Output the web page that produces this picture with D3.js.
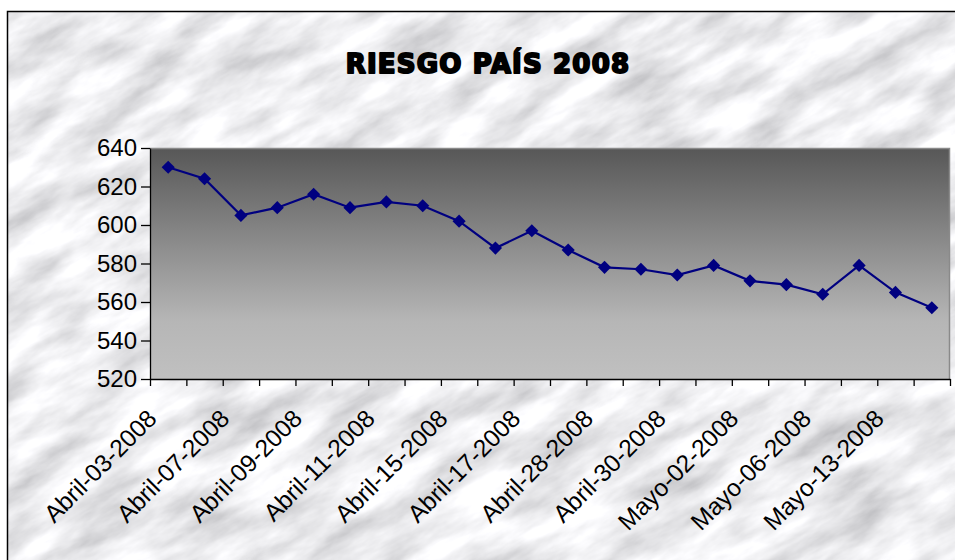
<!DOCTYPE html>
<html>
<head>
<meta charset="utf-8">
<script src="https://cdn.jsdelivr.net/npm/d3@7"></script>
<style>
  html, body { margin: 0; padding: 0; background: #fff; }
  svg { display: block; }
</style>
</head>
<body>
<div id="chart"></div>
<script>
// fechas (one per point; every other one is labelled on the axis)
const fechas = [
  'Abril-03-2008', 'Abril-04-2008', 'Abril-07-2008', 'Abril-08-2008',
  'Abril-09-2008', 'Abril-10-2008', 'Abril-11-2008', 'Abril-14-2008',
  'Abril-15-2008', 'Abril-16-2008', 'Abril-17-2008', 'Abril-18-2008',
  'Abril-28-2008', 'Abril-29-2008', 'Abril-30-2008', 'Mayo-01-2008',
  'Mayo-02-2008', 'Mayo-05-2008', 'Mayo-06-2008', 'Mayo-07-2008',
  'Mayo-13-2008', 'Mayo-14-2008'
];
const riesgo = [
  630, 624, 605, 609, 616, 609, 612, 610, 602, 588, 597,
  587, 578, 577, 574, 579, 571, 569, 564, 579, 565, 557
];
const yTicks = [520, 540, 560, 580, 600, 620, 640];
const titulo = 'RIESGO PAÍS 2008';

const width = 955;
const height = 560;
const plot = { left: 150, right: 950, top: 148, bottom: 379 };

const svg = d3.select('#chart')
  .append('svg')
  .attr('width', width)
  .attr('height', height);

const defs = svg.append('defs');

// marble-ish texture for the chart background
const marble = defs.append('filter')
  .attr('id', 'marble')
  .attr('filterUnits', 'userSpaceOnUse')
  .attr('x', -600).attr('y', -600).attr('width', 2200).attr('height', 2000);
marble.append('feTurbulence')
  .attr('type', 'fractalNoise')
  .attr('baseFrequency', '0.012 0.035')
  .attr('numOctaves', 5)
  .attr('seed', 11);
marble.append('feColorMatrix')
  .attr('type', 'matrix')
  .attr('values',
    '0.8 0 0 0 0.45 ' +
    '0.8 0 0 0 0.45 ' +
    '0.8 0 0 0 0.47 ' +
    '0 0 0 0 1');

const grad = defs.append('linearGradient')
  .attr('id', 'plotGrad')
  .attr('x1', 0).attr('y1', 0).attr('x2', 0).attr('y2', 1);
grad.append('stop').attr('offset', 0).attr('stop-color', '#575757');
grad.append('stop').attr('offset', 0.75).attr('stop-color', '#b6b6b6');
grad.append('stop').attr('offset', 1).attr('stop-color', '#c0c0c0');

defs.append('clipPath').attr('id', 'frame')
  .append('rect').attr('x', 7).attr('y', 11).attr('width', 960).attr('height', 560);

// background
svg.append('g')
  .attr('clip-path', 'url(#frame)')
  .append('rect')
  .attr('x', -400).attr('y', -400)
  .attr('width', 1800).attr('height', 1400)
  .attr('transform', 'rotate(-28 480 280)')
  .attr('filter', 'url(#marble)');

svg.append('rect')
  .attr('x', 7.5).attr('y', 11.5)
  .attr('width', 960).attr('height', 560)
  .attr('fill', 'none')
  .attr('stroke', '#000')
  .attr('stroke-width', 1.5);

// scales
const x = d3.scaleBand()
  .domain(fechas)
  .range([plot.left, plot.right])
  .padding(0);

const y = d3.scaleLinear()
  .domain([520, 640])
  .range([plot.bottom, plot.top]);

// plot area
svg.append('rect')
  .attr('x', plot.left)
  .attr('y', plot.top)
  .attr('width', plot.right - plot.left)
  .attr('height', plot.bottom - plot.top)
  .attr('fill', 'url(#plotGrad)');

svg.append('path')
  .attr('d', `M${plot.left},${plot.top + 0.5}H${plot.right - 0.5}V${plot.bottom}`)
  .attr('fill', 'none')
  .attr('stroke', '#8a8a8a')
  .attr('stroke-width', 1.5);

// y axis
const yAxis = svg.append('g')
  .attr('transform', `translate(${plot.left},0)`)
  .call(d3.axisLeft(y).tickValues(yTicks).tickSize(9).tickSizeOuter(0).tickPadding(4));
yAxis.selectAll('path, line').attr('stroke', '#000').attr('stroke-width', 1.3);
yAxis.selectAll('text')
  .attr('font-family', '"Liberation Sans", Arial, sans-serif')
  .attr('font-size', 24)
  .attr('fill', '#000');

// x axis: ticks at category boundaries
const xEdges = d3.scaleLinear().domain([0, fechas.length]).range([plot.left, plot.right]);
const xAxis = svg.append('g')
  .attr('transform', `translate(0,${plot.bottom})`)
  .call(d3.axisBottom(xEdges).tickValues(d3.range(fechas.length + 1)).tickFormat('').tickSize(7).tickSizeOuter(0));
xAxis.selectAll('path, line').attr('stroke', '#000').attr('stroke-width', 1.3);

svg.append('g')
  .selectAll('text')
  .data(fechas.filter((d, i) => i % 2 === 0))
  .enter()
  .append('text')
  .attr('transform', d => `translate(${x(d) + x.bandwidth() / 2 - 10},${plot.bottom + 41}) rotate(-45)`)
  .attr('text-anchor', 'end')
  .attr('font-family', '"Liberation Sans", Arial, sans-serif')
  .attr('font-size', 24.5)
  .attr('fill', '#000')
  .text(d => d);

// series
const line = d3.line()
  .x((d, i) => x(fechas[i]) + x.bandwidth() / 2)
  .y(d => y(d));

svg.append('path')
  .datum(riesgo)
  .attr('d', line)
  .attr('fill', 'none')
  .attr('stroke', '#000080')
  .attr('stroke-width', 2.2);

svg.append('g')
  .selectAll('path')
  .data(riesgo)
  .enter()
  .append('path')
  .attr('d', d3.symbol().type(d3.symbolDiamond2).size(110))
  .attr('transform', (d, i) => `translate(${x(fechas[i]) + x.bandwidth() / 2},${y(d)})`)
  .attr('fill', '#000080');

// title
svg.append('text')
  .attr('x', 488)
  .attr('y', 73)
  .attr('text-anchor', 'middle')
  .attr('font-family', '"DejaVu Sans", sans-serif')
  .attr('font-weight', 'bold')
  .attr('font-size', 26)
  .attr('letter-spacing', 1.2)
  .attr('stroke', '#000')
  .attr('stroke-width', 2)
  .attr('stroke-linejoin', 'round')
  .attr('fill', '#000')
  .text(titulo);
</script>
</body>
</html>
